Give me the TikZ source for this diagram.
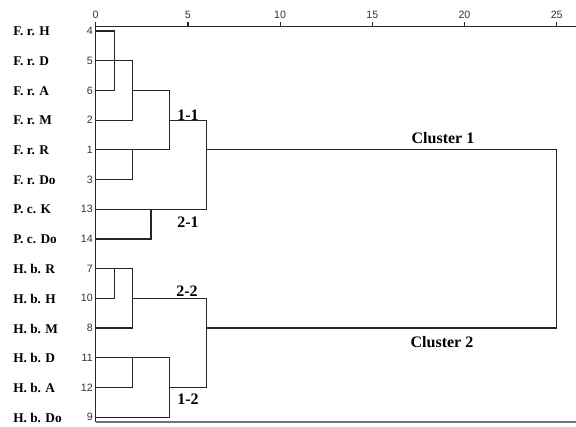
\documentclass[tikz,border=0pt]{standalone}
\usepackage{fontspec}
\setmainfont{Liberation Serif}
\newfontfamily\numfont{Liberation Sans}
\usepackage{tikz}

\begin{document}
\begin{tikzpicture}[x=0.75pt,y=0.75pt,yscale=-1,xscale=1,
  tree/.style={line width=0.9pt,color=black!85},
  leafname/.style={anchor=west,inner sep=0.75pt,font=\bfseries\fontsize{10}{11}\selectfont},
  leafnum/.style={inner sep=0.75pt,font=\numfont\fontsize{8}{9}\selectfont,text=black!80},
  clus/.style={inner sep=0.75pt,font=\bfseries\fontsize{12}{13}\selectfont}]
\useasboundingbox (0,0) rectangle (576,426);

%Shape: Axis 2D
\draw [tree] (95.7,421.7) -- (95.7,26.7) -- (576,26.7) ;
\foreach \d in {0,5,...,25}{
  \draw [tree] (95.7+18.44*\d,21.5) -- (95.7+18.44*\d,26.7) ;
  \node [leafnum] (tick\d) at (95.7+18.44*\d,15) {\d};
}
%Straight Lines (bottom frame)
\draw [line width=1.4pt,color=black!55] (95.7,421.7) -- (576,421.7) ;

%Straight Lines: cluster 1
\draw [tree] (95.7,31) -- (114.1,31) -- (114.1,90.4) -- (95.7,90.4) ;
\draw [tree] (95.7,60.7) -- (132.6,60.7) -- (132.6,120.1) -- (95.7,120.1) ;
\draw [tree] (132.6,90.4) -- (169.5,90.4) -- (169.5,149.8) -- (95.7,149.8) ;
\draw [tree] (95.7,179.5) -- (132.6,179.5) -- (132.6,149.8) ;
\draw [tree] (169.5,120.1) -- (206.3,120.1) -- (206.3,209.2) -- (95.7,209.2) ;
\draw [tree] (151,209.2) -- (151,238.9) -- (95.7,238.9) ;
%Straight Lines: root
\draw [tree] (206.3,149.8) -- (556.7,149.8) -- (556.7,328) -- (206.3,328) ;
%Straight Lines: cluster 2
\draw [tree] (95.7,268.6) -- (132.6,268.6) -- (132.6,328) -- (95.7,328) ;
\draw [tree] (114.1,268.6) -- (114.1,298.3) -- (95.7,298.3) ;
\draw [tree] (132.6,298.3) -- (206.3,298.3) -- (206.3,387.4) -- (169.5,387.4) ;
\draw [tree] (95.7,357.7) -- (169.5,357.7) -- (169.5,417.1) -- (95.7,417.1) ;
\draw [tree] (95.7,387.4) -- (132.6,387.4) -- (132.6,357.7) ;

% Text Node
\foreach \nm/\no [count=\r from 0] in {F. r. H/4,F. r. D/5,F. r. A/6,F. r. M/2,F. r. R/1,F. r. Do/3,P. c. K/13,P. c. Do/14,H. b. R/7,H. b. H/10,H. b. M/8,H. b. D/11,H. b. A/12,H. b. Do/9}{
  \node [leafname] (name\r) at (12,31.5+29.7*\r) {\nm};
  \node [leafnum,anchor=east] (num\r) at (94,31+29.7*\r) {\no};
}
% Text Node
\node [clus] (c1) at (443,138) {Cluster 1};
% Text Node
\node [clus] (c2) at (442,342) {Cluster 2};
% Text Node
\node [clus] (s11) at (188,115) {1-1};
% Text Node
\node [clus] (s21) at (188,222) {2-1};
% Text Node
\node [clus] (s22) at (187,291) {2-2};
% Text Node
\node [clus] (s12) at (188,399.5) {1-2};

\end{tikzpicture}
\end{document}
